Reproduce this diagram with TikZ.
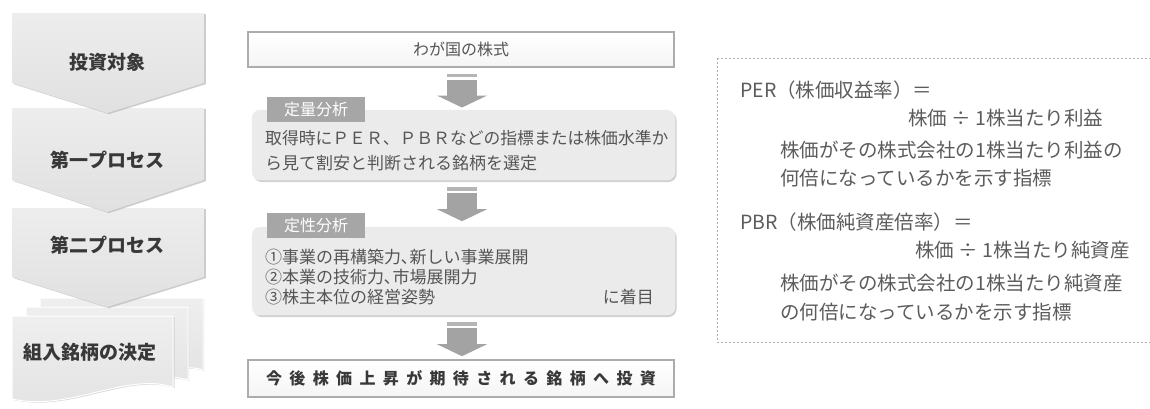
\documentclass[tikz,border=0pt]{standalone}
\usepackage{fontspec}
\newfontfamily\jp{Noto Sans CJK JP}
\usetikzlibrary{shadows,calc}
\definecolor{txt}{HTML}{555555}
\definecolor{dtxt}{HTML}{383838}
\definecolor{rtxt}{HTML}{5c5c5c}
\tikzset{
  chev/.style={top color=gray!14, bottom color=gray!24, draw=none,
    drop shadow={shadow xshift=1.8pt, shadow yshift=-1.2pt, fill=gray!55, opacity=0.7}},
  sheet/.style={top color=gray!13, bottom color=gray!22, draw=white, line width=1pt},
  lefttxt/.style={font=\jp\bfseries\fontsize{19}{22}\selectfont, text=dtxt, inner sep=0},
  plainbox/.style={draw=gray!65, line width=1.1pt, top color=white, bottom color=gray!8,
    minimum width=426, minimum height=35, inner sep=0},
  roundbox/.style={rounded corners=8pt, fill=gray!16, draw=gray!10, minimum width=423, inner sep=0,
    drop shadow={shadow xshift=1.5pt, shadow yshift=-2pt, fill=gray!45, opacity=0.8}},
  tagbox/.style={fill=gray!70, minimum width=98, minimum height=25, inner sep=0,
    font=\jp\fontsize{16}{18}\selectfont, text=white},
  midtxt/.style={font=\jp\fontsize{17}{20}\selectfont, text=txt, inner sep=0, anchor=west},
  rtxtstyle/.style={font=\jp\fontsize{19.5}{22}\selectfont, text=rtxt, inner sep=0, anchor=west},
  arrowc/.style={fill=gray!72},
  arrowband/.style={fill=gray!58}
}
\newcommand{\bkarrow}[1]{%
  \begin{scope}[shift={(#1)}]
    \fill[arrowband] (-15,0) rectangle (15,3.5);
    \fill[arrowc] (-15,6) rectangle (15,22);
    \fill[arrowc] (-25,22) -- (25,22) -- (0,34) -- cycle;
  \end{scope}}
\begin{document}
\begin{tikzpicture}[x=1pt,y=-1pt]
\useasboundingbox (0,0) rectangle (1150,408);
\fill[white] (0,0) rectangle (1150,408);

% ---------- left column ----------
% document stack
\path[sheet, drop shadow={shadow xshift=1.2pt, shadow yshift=-1pt, fill=gray!45, opacity=0.6}]
  (40,298) -- (203,298) -- (203,370) .. controls (180,362) and (140,378) .. (40,372) -- cycle;
\path[sheet, drop shadow={shadow xshift=1.2pt, shadow yshift=-1pt, fill=gray!45, opacity=0.6}]
  (26,307) -- (188,307) -- (188,380) .. controls (160,370) and (110,392) .. (26,385) -- cycle;
\path[sheet, drop shadow={shadow xshift=1.5pt, shadow yshift=-1pt, fill=gray!50, opacity=0.6}]
  (12,316) -- (173,316) -- (173,387) .. controls (125,372) and (70,412) .. (12,399) -- cycle;
% chevrons (back to front)
\path[chev] (12,208) -- (204,208) -- (204,277) -- (107,307) -- (12,277) -- cycle;
\path[chev] (12,108) -- (204,108) -- (204,180) -- (107,212) -- (12,180) -- cycle;
\path[chev] (12,13) -- (204,13) -- (204,83) -- (107,113) -- (12,83) -- cycle;

\node[lefttxt] (l1) at (107,62) {投資対象};
\node[lefttxt] (l2) at (107,160) {第一プロセス};
\node[lefttxt] (l3) at (107,245) {第二プロセス};
\node[lefttxt] (l4) at (90,352) {組入銘柄の決定};

% ---------- middle column ----------
\node[plainbox, font=\jp\fontsize{16}{18}\selectfont, text=txt] (b1) at (461,49.5) {わが国の株式};

\node[roundbox, minimum height=70] (b2) at (463.5,145) {};
\node[tagbox] (q1) at (316,109.5) {定量分析};
\node[midtxt, font=\jp\fontsize{16.8}{20}\selectfont] (t21) at (265,138) {取得時にＰＥＲ、ＰＢＲなどの指標または株価水準か};
\node[midtxt] (t22) at (265,163) {ら見て割安と判断される銘柄を選定};

\node[roundbox, minimum height=88] (b3) at (463.5,271) {};
\node[tagbox] (q2) at (316,225) {定性分析};
\node[midtxt] (t31) at (265,257) {①事業の再構築力､新しい事業展開};
\node[midtxt] (t32) at (265,277) {②本業の技術力､市場展開力};
\node[midtxt] (t33) at (265,297) {③株主本位の経営姿勢};
\node[midtxt, anchor=east] (t34) at (654,297) {に着目};

\node[plainbox, minimum height=37, font=\jp\bfseries\fontsize{16}{18}\selectfont\addfontfeature{LetterSpace=46}, text=dtxt] (b4) at (461,378.5) {今後株価上昇が期待される銘柄へ投資};

\path (b1.south) ++(1,6) coordinate (a1);
\path (b2.south) ++(-1.5,7) coordinate (a2);
\path (b3.south) ++(-1.5,7) coordinate (a3);
\bkarrow{a1}
\bkarrow{a2}
\bkarrow{a3}

% ---------- right box ----------
\draw[gray!65, line width=1pt, dash pattern=on 2pt off 2pt] (717,58) rectangle (1160,342);
\node[rtxtstyle] (r1) at (740,90) {PER（株価収益率）＝};
\node[rtxtstyle] (r2) at (908,118) {株価 ÷ 1株当たり利益};
\node[rtxtstyle] (r3) at (780,150) {株価がその株式会社の1株当たり利益の};
\node[rtxtstyle] (r4) at (780,178) {何倍になっているかを示す指標};
\node[rtxtstyle] (r5) at (740,222) {PBR（株価純資産倍率）＝};
\node[rtxtstyle] (r6) at (915,250) {株価 ÷ 1株当たり純資産};
\node[rtxtstyle] (r7) at (780,283) {株価がその株式会社の1株当たり純資産};
\node[rtxtstyle] (r8) at (780,312) {の何倍になっているかを示す指標};
\end{tikzpicture}
\end{document}
